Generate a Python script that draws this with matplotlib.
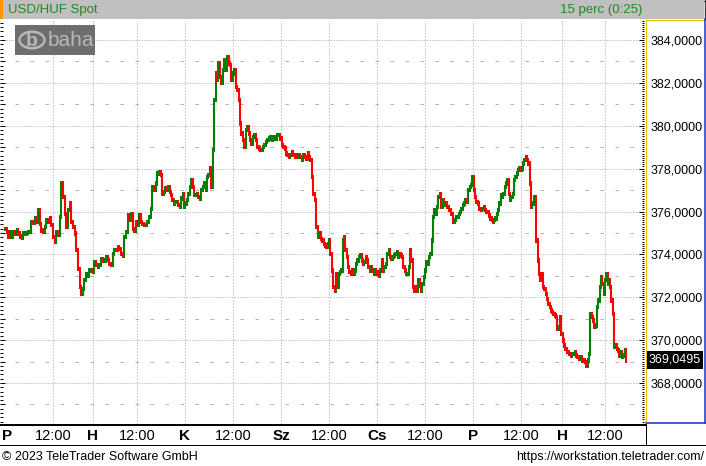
import matplotlib
matplotlib.use('Agg')
import matplotlib.pyplot as plt
import numpy as np
from matplotlib.patches import Rectangle, Circle
from matplotlib.lines import Line2D
from matplotlib.ticker import MultipleLocator, FixedLocator, FuncFormatter

plt.rcParams['font.family'] = ['Liberation Sans', 'DejaVu Sans']
plt.rcParams['lines.scale_dashes'] = False

# ---------------- data (USD/HUF spot, 15-minute bars) ----------------
seg1 = [375.20, 375.04, 374.81, 375.04, 374.81, 375.04, 374.97, 375.12, 374.97, 374.84,
        374.78, 374.97, 374.97, 375.00, 375.04, 375.04, 375.51, 375.46, 375.67, 375.51,
        376.06, 375.43, 375.12, 375.04, 375.28, 375.59, 375.51, 375.67, 375.36, 374.81,
        374.58, 375.04, 374.89, 375.74, 377.30, 376.68, 375.90, 375.28, 376.06, 376.37,
        375.51, 375.28, 374.97, 374.19, 373.33, 372.47, 372.16, 372.40, 372.79, 373.10,
        373.02, 373.25, 373.25, 373.17, 373.64, 373.49, 373.41, 373.49, 373.80, 373.72,
        373.72, 373.88, 373.75, 373.56, 373.53, 374.03, 374.22, 374.19, 374.34, 374.26,
        374.03, 373.95, 374.81, 375.04, 375.82, 375.59, 375.90, 375.20, 375.12, 375.51,
        375.36, 375.82, 375.51, 375.43, 375.36, 375.36, 375.51, 375.74, 376.13, 377.15,
        376.99, 377.30, 377.77, 377.85]
seg2 = [377.69, 376.83, 376.91, 377.07, 377.02, 377.15, 376.91, 376.76, 376.52, 376.37,
        376.45, 376.45, 376.29, 376.21, 376.60, 376.83, 376.21, 376.37, 376.52, 376.83,
        377.15, 377.46, 377.15, 376.76, 376.76, 376.83, 376.68, 376.60, 376.99, 377.15,
        377.30, 376.99, 377.61, 377.69, 378.00, 377.15, 378.86, 381.20, 382.44, 382.13,
        382.91, 382.29, 381.98, 382.60, 383.07, 382.60, 383.22, 382.91, 382.83, 382.13,
        382.44, 382.60, 381.82, 381.66, 381.20, 380.11, 379.64, 379.33, 379.02, 379.79,
        379.95, 379.64, 379.33, 379.17, 379.48, 379.56, 379.33, 379.02, 378.94, 378.86,
        378.86, 379.02, 379.09, 379.25, 379.33, 379.40, 379.48, 379.33, 379.40, 379.48,
        379.40, 379.56, 379.56, 379.40, 379.09, 379.02, 378.94, 378.70, 378.63, 378.55,
        378.63, 378.78, 378.63, 378.55, 378.63, 378.55, 378.63, 378.55, 378.39, 378.63,
        378.55, 378.47, 378.70, 378.55, 378.39, 377.61, 376.83, 376.52, 375.28, 374.81,
        374.97]
seg3 = [374.73, 374.65, 374.50, 374.42, 374.34, 374.50, 374.65, 374.03, 373.25, 372.47,
        372.32, 373.10, 372.47, 373.10, 373.17, 373.25, 374.65, 374.81, 374.19, 373.88,
        373.41, 373.17, 373.10, 373.25, 373.10, 373.25, 373.56, 373.72, 373.88, 373.95,
        373.72, 373.56, 373.64, 373.88, 373.72, 373.41, 373.25, 373.41, 373.25, 373.10,
        373.25, 373.10, 373.17, 373.02, 373.25, 373.72, 373.25, 373.41, 373.56, 374.03,
        374.19, 373.88, 373.80, 373.88, 373.95, 374.03, 374.11, 373.88, 374.03, 373.95,
        373.88, 373.41, 373.25, 373.10, 373.10, 373.41, 374.19, 373.72, 372.47, 372.32,
        372.47, 372.32, 372.79, 372.55, 372.32, 372.63, 372.94, 373.25, 373.64, 373.56,
        373.88, 374.03, 374.65, 375.74, 376.06, 375.90, 376.21, 376.68, 376.83, 376.21,
        376.52, 376.29, 376.37, 376.21, 376.21, 376.06, 375.90, 375.90, 375.51, 375.59,
        375.74, 375.74, 375.90, 375.98, 376.13, 376.29, 376.37, 376.52, 376.45, 376.99,
        377.15, 377.22, 377.61, 376.99, 376.68, 376.45, 376.37, 376.13]
seg4 = [376.06, 376.13, 376.21, 376.06, 375.98, 375.98, 375.82, 375.67, 375.59, 375.51,
        375.59, 375.67, 375.90, 376.06, 376.37, 376.76, 376.68, 376.83, 377.15, 377.30,
        377.46, 376.83, 376.52, 376.68, 376.83, 377.46, 377.61, 377.77, 377.93, 378.00,
        377.93, 378.00, 378.24, 378.39, 378.55, 378.39, 378.24, 377.30, 376.21, 376.37,
        376.68, 376.68, 374.65, 373.72, 373.10, 372.79, 373.10, 372.47, 372.40, 372.16,
        371.93, 371.69, 371.54, 371.38, 371.31, 371.23, 371.15, 371.07, 370.53, 370.60,
        371.07, 370.29, 369.98, 369.75, 369.59, 369.44, 369.44, 369.36, 369.28, 369.36,
        369.36, 369.44, 369.28, 369.20, 369.13, 369.13, 369.20, 369.05, 369.05, 368.97,
        368.81, 369.05, 369.36, 371.23, 371.07, 370.92, 370.60, 370.68, 371.54, 371.85,
        372.47, 372.94, 372.63, 372.16, 372.79, 373.10, 372.63, 372.79, 372.47, 371.85,
        371.23, 369.67, 369.75, 369.59, 369.51, 369.28, 369.44, 369.20, 369.28, 369.51,
        369.0495]
segments = [seg1, seg2, seg3, seg4]
segment_spans = [(5, 159), (161, 319), (321, 479), (481, 626)]  # time span of each block (chart units)

tick_pos = [7, 53, 93, 137, 185, 233, 281, 329, 377, 425, 473, 521, 562, 605]
tick_labels = ['P', '12:00', 'H', '12:00', 'K', '12:00', 'Sz', '12:00', 'Cs', '12:00', 'P', '12:00', 'H', '12:00']
grid_pos = tick_pos[1:]
last_value = 369.0495
title_left = 'USD/HUF Spot'
title_right = '15 perc (0:25)'
footer_left = '\u00a9 2023 TeleTrader Software GmbH'
footer_right = 'https://workstation.teletrader.com/'

# ---------------- figure ----------------
W, H = 706, 466
fig = plt.figure(figsize=(W / 100, H / 100), dpi=100)
fig.patch.set_facecolor('white')

def fx(px):
    return px / W

def fy(py):
    return 1 - py / H

PX = 0.72  # one pixel in points

top_px, bot_px = 20, 424
ax = fig.add_axes([0, fy(bot_px), fx(644), (bot_px - top_px) / H])
ymax = 384 + (40 - top_px) / 21.44
ymin = 368 - (bot_px - 383) / 21.44
ax.set_xlim(0, 644)
ax.set_ylim(ymin, ymax)
ax.set_facecolor('white')
for s in ax.spines.values():
    s.set_visible(False)

# grid: dotted at even values, short dashes at odd values
grid_col = '#a0a0a0'
for v in range(368, 385, 2):
    ax.hlines(v, 0, 644, colors=grid_col, linewidth=PX, linestyles=(0, (PX, 2 * PX)), zorder=1)
for v in range(367, 385, 2):
    ax.hlines(v, 15, 644, colors='#b4b4b4', linewidth=PX, linestyles=(0, (3.5 * PX, 11.5 * PX)), zorder=1)
for xg in grid_pos:
    ax.vlines(xg, ymin, ymax, colors=grid_col, linewidth=PX, linestyles=(0, (PX, 2 * PX)), zorder=1)

# bars
xs, vals = [], []
for seg, (a, b) in zip(segments, segment_spans):
    xs.extend(np.linspace(a, b, len(seg)))
    vals.extend(seg)
xs = np.array(xs)
vals = np.array(vals)
prev = np.concatenate([[vals[0]], vals[:-1]])
lo = np.minimum(prev, vals) - 0.1
hi = np.maximum(prev, vals) + 0.1
cols = np.where(vals >= prev, '#008000', '#ff0000')
ax.vlines(xs, lo, hi, colors=cols, linewidth=1.5, zorder=3)

# left ticks
ax.yaxis.set_major_locator(MultipleLocator(1))
ax.yaxis.set_minor_locator(MultipleLocator(0.2))
ax.tick_params(axis='y', which='major', direction='in', length=5 * PX, width=PX, left=True, labelleft=False)
ax.tick_params(axis='y', which='minor', direction='in', length=3 * PX, width=PX, left=True)
ax.set_xticks([])

# right ticks & labels
ax2 = ax.twinx()
ax2.set_ylim(ymin, ymax)
for s in ax2.spines.values():
    s.set_visible(False)
ax2.yaxis.set_major_locator(FixedLocator(list(range(368, 385, 2))))
ax2.yaxis.set_minor_locator(MultipleLocator(0.1))
ax2.yaxis.set_major_formatter(FuncFormatter(lambda v, p: f'{v:.4f}'.replace('.', ',')))
ax2.tick_params(axis='y', which='major', direction='in', length=5 * PX, width=PX,
                labelsize=9, pad=5, colors='black')
ax2.tick_params(axis='y', which='minor', direction='in', length=2 * PX, width=PX)

# logo
fig.patches.append(Rectangle((fx(15), fy(55)), fx(80), 30 / H, transform=fig.transFigure,
                             facecolor='#6e6e6e', edgecolor='none', zorder=5))
fig.patches.append(Circle((fx(32), fy(40)), 12.5 / W, transform=fig.transFigure,
                          facecolor='none', edgecolor='#b8b8b8', linewidth=1.8, zorder=6))
fig.text(fx(32), fy(41), 'b', color='#b8b8b8', fontsize=14, fontweight='bold',
         ha='center', va='center', zorder=7)
fig.text(fx(48), fy(41), 'baha', color='#b8b8b8', fontsize=15, ha='left', va='center', zorder=7)

# title bar
fig.patches.append(Rectangle((0, fy(19)), fx(704), 19 / H, transform=fig.transFigure,
                             facecolor='#c0c0c0', edgecolor='none', zorder=5))
fig.patches.append(Rectangle((0, fy(19)), fx(3), 19 / H, transform=fig.transFigure,
                             facecolor='#ff9900', edgecolor='none', zorder=6))
fig.add_artist(Line2D([0, 1], [fy(0.5), fy(0.5)], color='#404040', linewidth=PX))
fig.add_artist(Line2D([fx(705), fx(705)], [fy(0), fy(19)], color='#404040', linewidth=1.4 * PX))
fig.text(fx(8), fy(10), title_left, color='#1c8c1c', fontsize=9.5, ha='left', va='center', zorder=7)
fig.text(fx(642), fy(10), title_right, color='#1c8c1c', fontsize=9.5, ha='right', va='center', zorder=7)

# right panel borders
fig.add_artist(Line2D([fx(646), fx(646)], [fy(20), fy(423)], color='#f0c000', linewidth=PX))
fig.add_artist(Line2D([fx(646), fx(704)], [fy(20), fy(20)], color='#f0c000', linewidth=PX))
fig.add_artist(Line2D([fx(704.5), fx(704.5)], [fy(19), fy(423)], color='#1030c0', linewidth=1.5 * PX))
fig.add_artist(Line2D([fx(646), fx(706)], [fy(423), fy(423)], color='#1030c0', linewidth=1.5 * PX))

# last value marker
fig.patches.append(Rectangle((fx(647), fy(369)), fx(56), 18 / H, transform=fig.transFigure,
                             facecolor='black', edgecolor='none', zorder=8))
fig.text(fx(675), fy(360), f'{last_value:.4f}'.replace('.', ','), color='white', fontsize=9,
         ha='center', va='center', zorder=9)

# x axis band
fig.add_artist(Line2D([0, fx(646)], [fy(424.5), fy(424.5)], color='black', linewidth=2 * PX))
fig.add_artist(Line2D([0, fx(706)], [fy(445), fy(445)], color='black', linewidth=PX))
fig.add_artist(Line2D([fx(646), fx(646)], [fy(424), fy(445)], color='black', linewidth=PX))
for pos, lab in zip(tick_pos, tick_labels):
    bold = not lab[0].isdigit()
    fig.text(fx(pos), fy(436), lab, color='black', fontsize=11 if bold else 10.5,
             fontweight='bold' if bold else 'normal', ha='center', va='center')

# footer
fig.text(fx(2), fy(457), footer_left, color='black', fontsize=9, ha='left', va='center')
fig.text(fx(704), fy(457), footer_right, color='black', fontsize=9, ha='right', va='center')

fig.savefig('out.png', dpi=100, facecolor='white')
